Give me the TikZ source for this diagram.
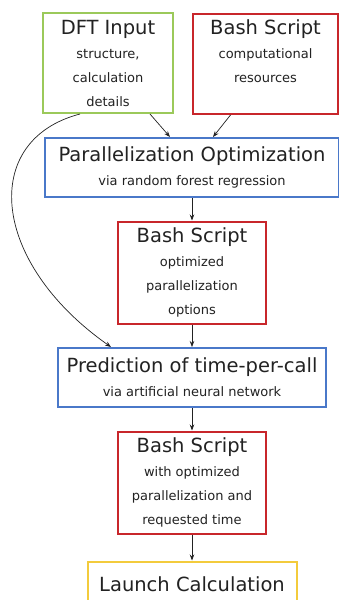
\documentclass[tikz,border=0pt]{standalone}
\usepackage{fontspec}
\setmainfont{DejaVu Sans}
\usetikzlibrary{arrows.meta,positioning}
\definecolor{FlowGreen}{HTML}{9BC95A}
\definecolor{FlowRed}{HTML}{C8262B}
\definecolor{FlowBlue}{HTML}{4A78C9}
\definecolor{FlowYellow}{HTML}{F3CB3C}
\definecolor{FlowText}{HTML}{222222}
\newcommand{\headfont}{\fontsize{19.5}{24}\selectfont}
\newcommand{\notefont}{\fontsize{13}{24}\selectfont}

\begin{document}
\begin{tikzpicture}[
    node distance=22.5pt,
    box/.style={
      draw,
      fill=white,
      line width=2pt,
      inner sep=2pt,
      align=center,
      font=\notefont,
      text=FlowText
    },
    inputbox/.style={box,draw=FlowGreen,minimum width=130pt,minimum height=100pt},
    scriptbox/.style={box,draw=FlowRed,minimum width=148pt,minimum height=102pt},
    methodbox/.style={box,draw=FlowBlue,minimum height=59pt},
    launchbox/.style={box,draw=FlowYellow,minimum width=209pt,minimum height=45pt},
    arrow/.style={-{Stealth[length=6pt,width=4.5pt]},line width=0.7pt,draw=FlowText}
  ]
    \useasboundingbox (0,0) rectangle (338pt,-600pt);
    \node[inputbox] (dft) at (108pt,-63pt)
      {{\headfont DFT Input}\\structure,\\calculation\\details};
    \node[scriptbox,minimum width=145pt,minimum height=100pt] (resources) at (265.5pt,-64pt)
      {{\headfont Bash Script}\\computational\\resources\\[2pt]\mbox{}};
    \node[methodbox,minimum width=294pt] (paraopt) at (192pt,-167.5pt)
      {{\headfont Parallelization Optimization}\\via random forest regression};
    \node[scriptbox,below=of paraopt] (options)
      {{\headfont Bash Script}\\optimized\\parallelization\\options};
    \node[methodbox,minimum width=268pt,below=of options] (timecall)
      {{\headfont Prediction of time-per-call}\\via artificial neural network};
    \node[scriptbox,below=of timecall] (request)
      {{\headfont Bash Script}\\with optimized\\parallelization and\\requested time};
    \node[launchbox,below=26pt of request] (launch) {\headfont Launch Calculation};
    % inputs into the optimization
    \draw[arrow] ([xshift=42pt]dft.south) -- ([xshift=-22pt]paraopt.north);
    \draw[arrow] ([xshift=-35pt]resources.south) -- ([xshift=21pt]paraopt.north);
    \draw[arrow] ([xshift=-28pt]dft.south) .. controls (-20pt,-140pt) and (-10pt,-262pt) .. ([xshift=-81pt]timecall.north);
    \foreach \a/\b in {paraopt/options,options/timecall,timecall/request,request/launch}
      \draw[arrow] (\a) -- (\b);
  \end{tikzpicture}
\end{document}
